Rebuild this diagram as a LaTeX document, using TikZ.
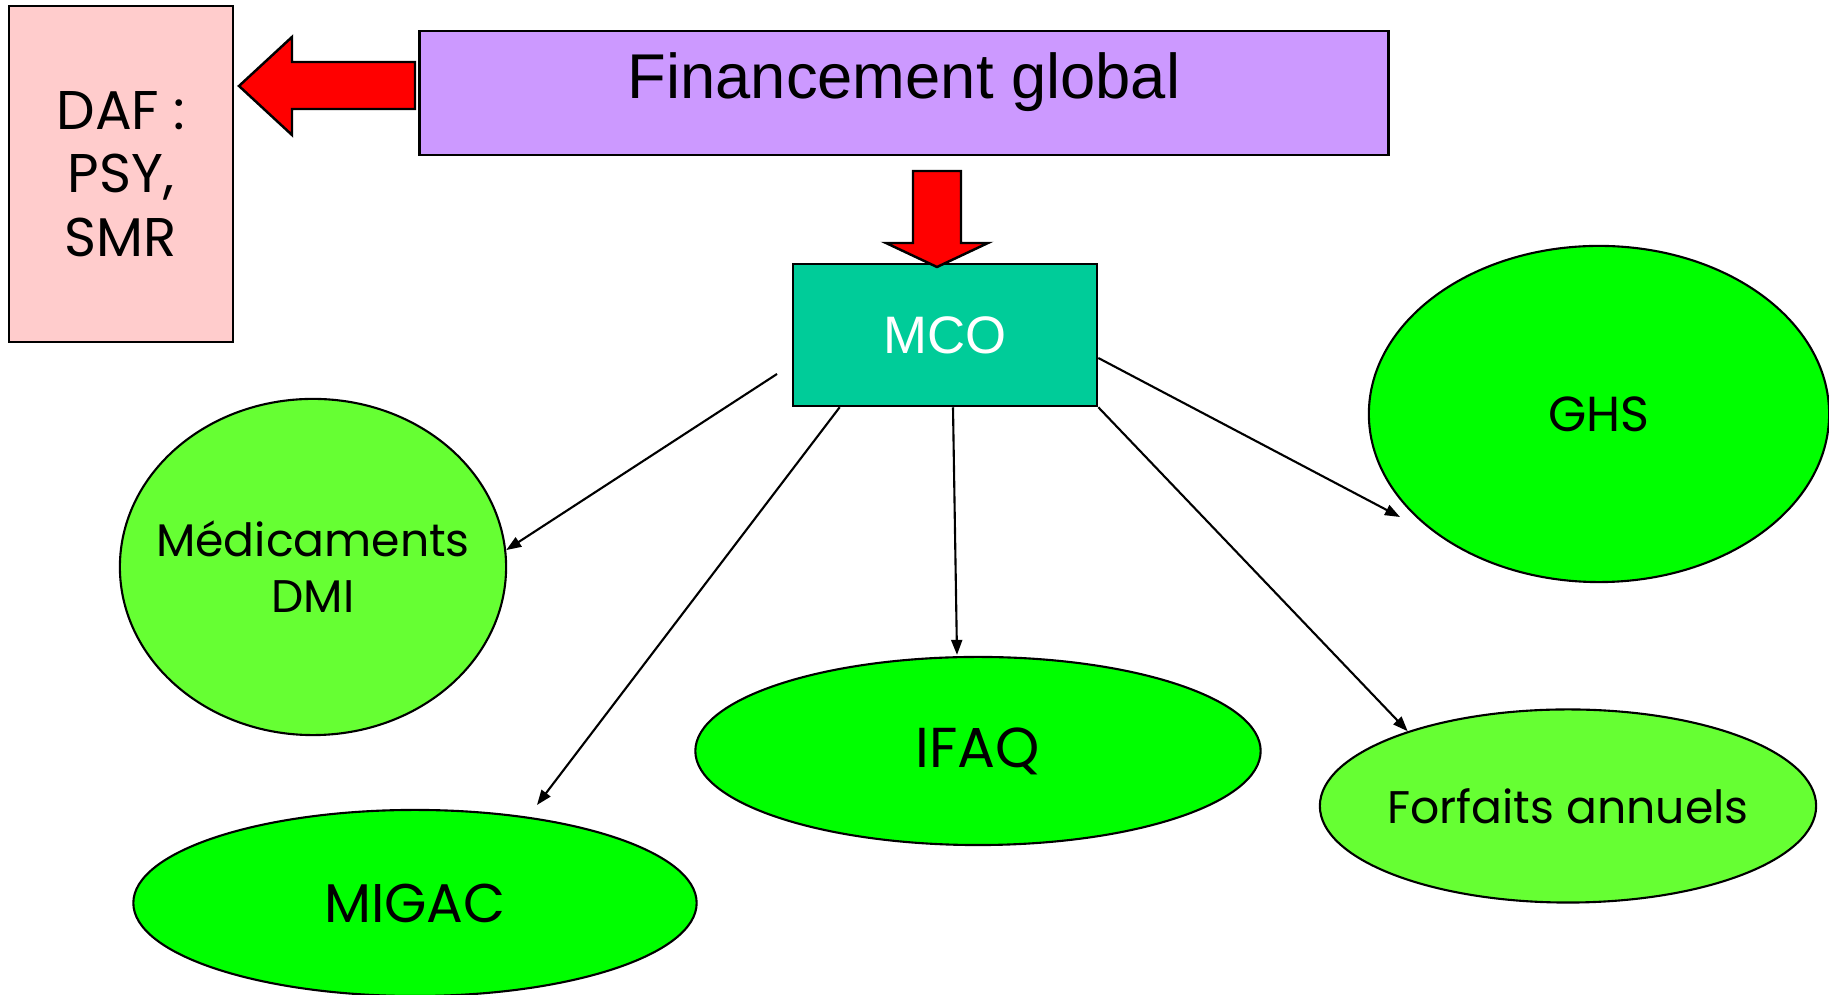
\documentclass[tikz,border=0pt]{standalone}
\usepackage{fontspec}
\usepackage{tikz}
\usetikzlibrary{arrows.meta,calc,shapes.geometric}
\newfontfamily\arialfont{Liberation Sans}
\newfontfamily\comicfont{Poppins}
\definecolor{finviolet}{HTML}{CC99FF}
\definecolor{dafrose}{HTML}{FFCCCC}
\definecolor{mcovert}{HTML}{00CC99}
\definecolor{vifvert}{HTML}{00FF00}
\definecolor{clairvert}{HTML}{66FF33}
\definecolor{rouge}{HTML}{FF0000}
\tikzset{
  boite/.style={draw=black, line width=0.7pt, inner sep=0pt, align=center},
  bulle/.style={ellipse, draw=black, line width=0.6pt, inner sep=-1cm,
                align=center, font=\comicfont\fontsize{13}{16}\selectfont},
  grosse/.style={draw=black, line width=0.7pt, fill=rouge},
  lien/.style={-{Triangle[length=1.5mm, width=1.1mm]}, line width=0.6pt},
}

\begin{document}
\begin{tikzpicture}[x=0.01cm, y=-0.01cm]
\useasboundingbox (0,0) rectangle (1829,995);

% boxes
\node[boite, fill=dafrose, minimum width=2.24cm, minimum height=3.36cm,
      font=\comicfont\fontsize{15.5}{18}\selectfont] (daf) at (121,174)
  {DAF :\\PSY,\\SMR};
\node[boite, fill=finviolet, minimum width=9.68cm, minimum height=1.24cm,
      text height=0.5cm, text depth=0.38cm,
      font=\arialfont\fontsize{18}{20}\selectfont] (fin) at (904,93)
  {Financement global};
\node[boite, fill=mcovert, minimum width=3.04cm, minimum height=1.42cm,
      text=white, font=\arialfont\fontsize{15}{18}\selectfont] (mco) at (945,335)
  {MCO};

% ellipses
\node[bulle, fill=clairvert, minimum width=3.86cm, minimum height=3.36cm] (med)
  at (313,567) {Médicaments\\DMI};
\node[bulle, fill=vifvert, minimum width=4.6cm, minimum height=3.36cm,
      font=\comicfont\fontsize{14}{16}\selectfont] (ghs) at (1599,414) {GHS};
\node[bulle, fill=vifvert, minimum width=5.65cm, minimum height=1.88cm,
      font=\comicfont\fontsize{16}{18}\selectfont] (ifaq) at (978,751) {IFAQ};
\node[bulle, fill=vifvert, minimum width=5.63cm, minimum height=1.86cm,
      font=\comicfont\fontsize{15.5}{18}\selectfont] (migac) at (415,903) {MIGAC};
\node[bulle, fill=clairvert, minimum width=4.96cm, minimum height=1.93cm] (forf)
  at (1568,806) {Forfaits annuels};

% big red arrows
\draw[grosse] (415,62) -- (292,62) -- (292,37) -- (239,86) -- (292,135)
  -- (292,109) -- (415,109) -- cycle;
\draw[grosse] (913,171) -- (913,243) -- (886,243) -- (937,267) -- (988,243)
  -- (961,243) -- (961,171) -- cycle;

% links from MCO
\coordinate (depmed) at (777,374);
\coordinate (ptmigac) at (537,805);
\coordinate (ptghs) at (1400,517);
\draw[lien] (depmed) -- (med.5);
\draw[lien] ($(mco.south west)+(48,0)$) -- (ptmigac);
\draw[lien] ($(mco.south)+(8,0)$) -- ($(ifaq.north)+(-21,-1)$);
\draw[lien] (mco.south east) -- (forf.155);
\draw[lien] ($(mco.east)+(0,23)$) -- (ptghs);
\end{tikzpicture}
\end{document}
